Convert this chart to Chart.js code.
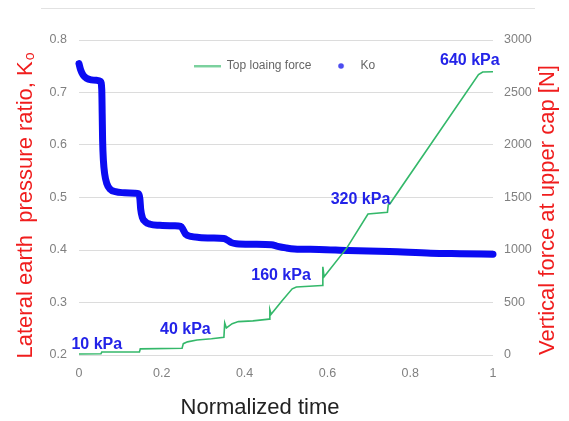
<!DOCTYPE html>
<html>
<head>
<meta charset="utf-8">
<script src="https://cdn.jsdelivr.net/npm/chart.js@4"></script>
<style>
  html, body { margin: 0; padding: 0; background: #ffffff; }
  #wrap { width: 569px; height: 421px; position: relative; }
</style>
</head>
<body>
<div id="wrap"><canvas id="c"></canvas></div>
<script>
// ---- data ----
const timeForce = [0.000, 0.053, 0.055, 0.146, 0.148, 0.249, 0.252, 0.262, 0.285, 0.320, 0.350, 0.352, 0.356, 0.370, 0.385, 0.420, 0.459, 0.461, 0.464, 0.490, 0.515, 0.525, 0.587, 0.589, 0.592, 0.647, 0.698, 0.745, 0.747, 0.751, 0.965, 0.975, 1.000];
const force     = [10, 12, 28, 30, 58, 64, 108, 125, 143, 155, 168, 305, 258, 298, 318, 325, 342, 430, 388, 515, 630, 648, 662, 840, 745, 1020, 1343, 1360, 1430, 1440, 2670, 2695, 2697];

const timeKo = [0.000, 0.004, 0.010, 0.018, 0.030, 0.045, 0.052, 0.055, 0.056, 0.057, 0.059, 0.062, 0.067, 0.075, 0.088, 0.110, 0.135, 0.144, 0.147, 0.149, 0.153, 0.160, 0.172, 0.195, 0.230, 0.246, 0.252, 0.258, 0.270, 0.290, 0.320, 0.350, 0.360, 0.368, 0.380, 0.420, 0.465, 0.480, 0.500, 0.520, 0.580, 0.650, 0.750, 0.850, 0.920, 1.000];
const ko     = [0.755, 0.743, 0.733, 0.727, 0.724, 0.723, 0.721, 0.705, 0.660, 0.610, 0.570, 0.545, 0.527, 0.516, 0.511, 0.509, 0.508, 0.507, 0.498, 0.478, 0.462, 0.454, 0.449, 0.447, 0.446, 0.445, 0.438, 0.430, 0.426, 0.424, 0.423, 0.422, 0.418, 0.414, 0.412, 0.411, 0.410, 0.407, 0.404, 0.402, 0.401, 0.399, 0.397, 0.394, 0.393, 0.392];

const seriesNames = ['Top loaing force', 'Ko'];

const stressLabels = ['10 kPa', '40 kPa', '160 kPa', '320 kPa', '640 kPa'];
const stressLabelTime  = [0.043, 0.257, 0.488, 0.680, 0.944];
const stressLabelForce = [95, 238, 755, 1476, 2800];

const axisTitleLeft = 'Lateral earth  pressure ratio, K';
const axisTitleLeftSub = 'o';
const axisTitleRight = 'Vertical force at upper cap [N]';
const axisTitleBottom = 'Normalized time';

// ---- legend symbols ----
function makeLineImg() {
  const c = document.createElement('canvas');
  c.width = 27; c.height = 3;
  const g = c.getContext('2d');
  g.strokeStyle = '#34b86a'; g.lineWidth = 1.6;
  g.beginPath(); g.moveTo(0, 1.5); g.lineTo(27, 1.5); g.stroke();
  return c;
}
function makeDotImg() {
  const c = document.createElement('canvas');
  c.width = 8; c.height = 8;
  const g = c.getContext('2d');
  g.fillStyle = '#4b4bf0';
  g.beginPath(); g.arc(4, 4, 2.8, 0, Math.PI * 2); g.fill();
  return c;
}
const legendImgs = [makeLineImg(), makeDotImg()];

const FONT = '"Liberation Sans", Arial, sans-serif';

const decorPlugin = {
  id: 'decor',
  beforeDraw(chart) {
    const ctx = chart.ctx;
    ctx.save();
    ctx.fillStyle = '#ffffff';
    ctx.fillRect(0, 0, chart.width, chart.height);
    ctx.strokeStyle = '#e2e2e2';
    ctx.lineWidth = 1;
    ctx.beginPath();
    ctx.moveTo(41, 8.5); ctx.lineTo(535, 8.5);
    ctx.stroke();
    ctx.restore();
  },
  afterLayout(chart) {
    const l = chart.legend;
    if (l) { l.top += 42; l.bottom += 42; }
  },
  afterDatasetsDraw(chart) {
    const ctx = chart.ctx;
    const xs = chart.scales.x, ys = chart.scales.y2;
    ctx.save();
    ctx.font = 'bold 16px ' + FONT;
    ctx.fillStyle = '#2323e8';
    ctx.textAlign = 'center';
    ctx.textBaseline = 'middle';
    stressLabels.forEach((t, i) => {
      ctx.fillText(t, xs.getPixelForValue(stressLabelTime[i]), ys.getPixelForValue(stressLabelForce[i]));
    });
    ctx.restore();
  },
  afterDraw(chart) {
    const ctx = chart.ctx;
    ctx.save();
    // bottom title
    ctx.font = '22px ' + FONT;
    ctx.fillStyle = '#222222';
    ctx.textAlign = 'center';
    ctx.textBaseline = 'middle';
    ctx.fillText(axisTitleBottom, 260, 408);
    // left title with subscript
    ctx.fillStyle = '#f01d1d';
    ctx.save();
    ctx.translate(24, 206);
    ctx.rotate(-Math.PI / 2);
    ctx.font = '22px ' + FONT;
    const w1 = ctx.measureText(axisTitleLeft).width;
    ctx.font = '14px ' + FONT;
    const w2 = ctx.measureText(axisTitleLeftSub).width;
    const start = -(w1 + w2) / 2;
    ctx.textAlign = 'left';
    ctx.textBaseline = 'alphabetic';
    ctx.font = '22px ' + FONT;
    ctx.fillText(axisTitleLeft, start, 8);
    ctx.font = '14px ' + FONT;
    ctx.fillText(axisTitleLeftSub, start + w1 + 1, 10);
    ctx.restore();
    // right title
    ctx.save();
    ctx.translate(548, 210);
    ctx.rotate(-Math.PI / 2);
    ctx.font = '22px ' + FONT;
    ctx.textAlign = 'center';
    ctx.textBaseline = 'middle';
    ctx.fillText(axisTitleRight, 0, 0);
    ctx.restore();
    ctx.restore();
  }
};

const tickFont = { family: FONT, size: 12.5 };

new Chart(document.getElementById('c'), {
  type: 'scatter',
  data: {
    datasets: [
      {
        label: seriesNames[0],
        data: timeForce.map((t, i) => ({ x: t, y: force[i] })),
        yAxisID: 'y2',
        showLine: true,
        borderColor: '#34b86a',
        backgroundColor: '#34b86a',
        borderWidth: 1.6,
        pointRadius: 0,
        tension: 0
      },
      {
        label: seriesNames[1],
        data: timeKo.map((t, i) => ({ x: t, y: ko[i] })),
        yAxisID: 'y',
        showLine: true,
        borderColor: '#0b0bf2',
        backgroundColor: '#0b0bf2',
        borderWidth: 7,
        borderCapStyle: 'round',
        borderJoinStyle: 'round',
        cubicInterpolationMode: 'monotone',
        pointRadius: 0,
        clip: 4
      }
    ]
  },
  options: {
    responsive: true,
    maintainAspectRatio: false,
    animation: false,
    layout: { padding: { top: 2, left: 0, right: 0, bottom: 0 } },
    plugins: {
      tooltip: { enabled: false },
      legend: {
        position: 'top',
        labels: {
          usePointStyle: true,
          pointStyleWidth: 27,
          padding: 16,
          color: '#666666',
          font: { family: FONT, size: 12 },
          generateLabels(chart) {
            const items = Chart.defaults.plugins.legend.labels.generateLabels(chart);
            items.forEach((it, i) => { it.pointStyle = legendImgs[i]; });
            return items;
          }
        }
      }
    },
    scales: {
      x: {
        type: 'linear',
        min: 0, max: 1,
        ticks: { stepSize: 0.2, color: '#808080', font: tickFont, padding: 11, callback: v => String(Number(v.toFixed(2))) },
        grid: { display: false, drawTicks: false },
        border: { display: false },
        afterFit(s) { s.height = 66; }
      },
      y: {
        type: 'linear',
        position: 'left',
        min: 0.2, max: 0.8,
        ticks: { stepSize: 0.1, color: '#808080', font: tickFont, padding: 12 },
        grid: { color: '#dcdcdc', lineWidth: 1, drawTicks: false },
        border: { display: false },
        afterFit(s) { s.width = 79; }
      },
      y2: {
        type: 'linear',
        position: 'right',
        min: 0, max: 3000,
        ticks: { stepSize: 500, color: '#808080', font: tickFont, padding: 11, callback: v => String(v) },
        grid: { display: false, drawTicks: false },
        border: { display: false },
        afterFit(s) { s.width = 76; }
      }
    }
  },
  plugins: [decorPlugin]
});
</script>
</body>
</html>
